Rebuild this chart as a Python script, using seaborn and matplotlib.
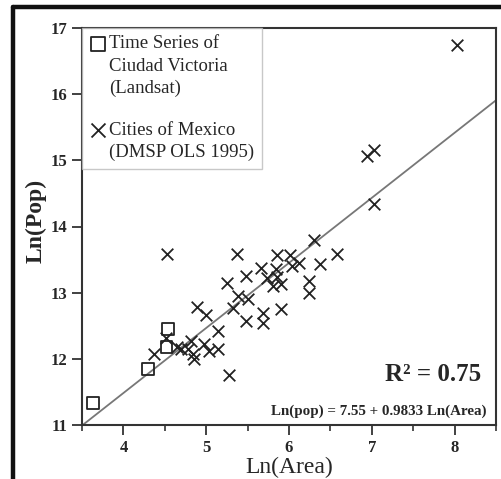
import matplotlib
matplotlib.use("Agg")
import matplotlib.pyplot as plt
import numpy as np
import pandas as pd
import seaborn as sns
from matplotlib.lines import Line2D
from matplotlib.ticker import MultipleLocator

# Landsat time series for Ciudad Victoria
landsat_area = [3.63, 4.30, 4.52, 4.54]
landsat_pop = [11.33, 11.85, 12.18, 12.45]

# Cities of Mexico (DMSP OLS 1995)
mexico_area = [4.53, 5.37, 6.30, 5.85, 6.01, 6.58, 6.37, 6.12, 6.04, 5.66,
               5.84, 5.48, 5.25, 5.74, 5.86, 5.81, 5.90, 6.24, 6.24, 5.39,
               5.51, 5.32, 4.89, 5.00, 5.48, 5.69, 5.69, 5.90, 5.14, 5.27,
               4.37, 4.52, 4.82, 4.70, 4.78, 4.84, 4.85, 4.97, 5.03, 5.14,
               8.03, 6.94, 7.03, 7.03, 4.65]
mexico_pop = [13.59, 13.59, 13.80, 13.57, 13.57, 13.59, 13.44, 13.45, 13.41, 13.38,
              13.36, 13.25, 13.15, 13.22, 13.24, 13.10, 13.13, 13.18, 13.00, 12.95,
              12.91, 12.77, 12.79, 12.66, 12.57, 12.69, 12.54, 12.75, 12.42, 11.76,
              12.07, 12.32, 12.27, 12.15, 12.15, 12.07, 12.00, 12.23, 12.12, 12.15,
              16.75, 15.07, 15.15, 14.34, 12.18]

# fitted line: Ln(pop) = 7.55 + 0.9833 Ln(Area)
intercept = 7.55
slope = 0.9833
r2 = 0.75

landsat = pd.DataFrame({"area": landsat_area, "pop": landsat_pop})
mexico = pd.DataFrame({"area": mexico_area, "pop": mexico_pop})

sns.set_style("ticks")
plt.rcParams["font.family"] = ["Liberation Serif", "DejaVu Serif"]

fig = plt.figure(figsize=(5.01, 4.79), dpi=100)
ax = fig.add_axes([82 / 501, 1 - 425 / 479, 414 / 501, 397 / 479])

xlim = (3.5, 8.5)
xs = np.array(xlim)
ax.plot(xs, intercept + slope * xs, color="#777777", lw=1.3, zorder=1)

sns.scatterplot(data=mexico, x="area", y="pop", marker="x", color="#222222",
                s=70, linewidth=1.3, ax=ax, label="Cities of Mexico\n(DMSP OLS 1995)", zorder=3)
sns.scatterplot(data=landsat, x="area", y="pop", marker="s", facecolor="none",
                edgecolor="#222222", s=70, linewidth=1.3, ax=ax,
                label="Time Series of\nCiudad Victoria\n(Landsat)", zorder=3)

ax.set_xlim(*xlim)
ax.set_ylim(11, 17)
ax.xaxis.set_major_locator(MultipleLocator(1))
ax.xaxis.set_minor_locator(MultipleLocator(0.5))
ax.yaxis.set_major_locator(MultipleLocator(1))
ax.tick_params(axis="both", which="major", direction="out", length=7, width=1.3,
               color="#333333", labelsize=12)
ax.tick_params(axis="x", which="minor", direction="out", length=4, width=1.2, color="#333333")
for lab in ax.get_xticklabels() + ax.get_yticklabels():
    lab.set_fontweight("bold")
for sp in ax.spines.values():
    sp.set_linewidth(1.5)
    sp.set_color("#333333")

ax.set_xlabel("Ln(Area)", fontsize=17)
ax.xaxis.set_label_coords(0.5, -0.08)
ax.set_ylabel("Ln(Pop)", fontsize=17, fontweight="bold")
ax.yaxis.set_label_coords(-0.085, 0.515)

handles, labels = ax.get_legend_handles_labels()
leg = ax.legend(handles[::-1], labels[::-1], loc="upper left", borderaxespad=0,
                fontsize=13.5, frameon=True, fancybox=False, edgecolor="#bbbbbb",
                handletextpad=0.15, handlelength=0.9, labelspacing=1.3,
                borderpad=0.4, markerscale=1.2)
leg.get_frame().set_linewidth(1.0)
for t in leg.get_texts():
    t.set_linespacing(1.4)
# put the marker next to the first line of each label
for col in leg._legend_handle_box.get_children():
    for item in col.get_children():
        item.align = "top"

ax.text(0.965, 0.126, "R\u00b2 = 0.75", transform=ax.transAxes, ha="right", va="center",
        fontsize=18, fontweight="bold")
ax.text(0.978, 0.035, f"Ln(pop) = {intercept} + {slope} Ln(Area)", transform=ax.transAxes,
        ha="right", va="center", fontsize=10.8, fontweight="bold")

# thick outer frame on top and left
fig.add_artist(Line2D([13 / 501, 1], [1 - 7 / 479, 1 - 7 / 479], color="#111111", lw=3.2))
fig.add_artist(Line2D([13 / 501, 13 / 501], [0, 1 - 7 / 479], color="#111111", lw=3.2))

fig.savefig("out.png", dpi=100)
